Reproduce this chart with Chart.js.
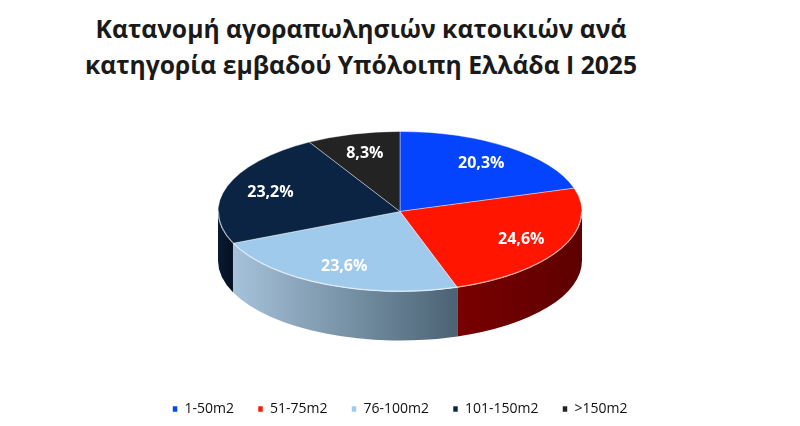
<!DOCTYPE html>
<html lang="el">
<head>
<meta charset="UTF-8">
<title>Κατανομή αγοραπωλησιών κατοικιών</title>
<script src="https://cdn.jsdelivr.net/npm/chart.js"></script>
<style>
  body { margin: 0; background: #fff; }
  #wrap { position: relative; width: 800px; height: 426px; }
  #title {
    position: absolute; top: 11px; left: 0; width: 722px;
    text-align: center; font: bold 24.7px "Open Sans", "Noto Sans", sans-serif;
    line-height: 36px; color: #1a1a1a;
  }
  canvas { position: absolute; left: 0; top: 0; }
</style>
</head>
<body>
<div id="wrap">
  <div id="title">Κατανομή αγοραπωλησιών κατοικιών ανά<br>κατηγορία εμβαδού Υπόλοιπη Ελλάδα Ι 2025</div>
  <canvas id="pie" width="800" height="426"></canvas>
</div>
<script>
// Δεδομένα
const categories = ['1-50m2', '51-75m2', '76-100m2', '101-150m2', '>150m2'];
const shares = [20.3, 24.6, 23.6, 23.2, 8.3];
const topColors = ['#0544ff', '#ff1500', '#9fcaec', '#0b2444', '#232323'];
const sideColors = [['#0020a0', '#001870'], ['#780000', '#5e0000'], ['#a6c2da', '#4a6273'], ['#0a1a33', '#050f20'], ['#1a1a1a', '#111']];

const TILT = 0.44;   // λόγος έλλειψης
const DEPTH = 49;    // πάχος πίτας

// plugin για ψευδο-3D
const pie3d = {
  id: 'pie3d',
  beforeDatasetsDraw(chart) {
    const ctx = chart.ctx;
    const arcs = chart.getDatasetMeta(0).data;
    const cx = arcs[0].x, cy = arcs[0].y, R = arcs[0].outerRadius;
    // πλευρές (μόνο το μπροστινό μισό)
    arcs.forEach((arc, i) => {
      const a0 = Math.max(arc.startAngle, 0);
      const a1 = Math.min(arc.endAngle, Math.PI);
      if (a1 <= a0) return;
      const xl = cx + R * Math.cos(a1), xr = cx + R * Math.cos(a0);
      const g = ctx.createLinearGradient(xl, 0, xr + 1, 0);
      g.addColorStop(0, sideColors[i][0]);
      g.addColorStop(1, sideColors[i][1]);
      ctx.beginPath();
      ctx.ellipse(cx, cy, R, R * TILT, 0, a0, a1);
      ctx.ellipse(cx, cy + DEPTH, R, R * TILT, 0, a1, a0, true);
      ctx.closePath();
      ctx.fillStyle = g;
      ctx.fill();
    });
    ctx.save();
    ctx.translate(cx, cy);
    ctx.scale(1, TILT);
    ctx.translate(-cx, -cy);
  },
  afterDatasetsDraw(chart) {
    const ctx = chart.ctx;
    ctx.restore();
    const arcs = chart.getDatasetMeta(0).data;
    const cx = arcs[0].x, cy = arcs[0].y, R = arcs[0].outerRadius;
    // λεπτή ανταύγεια στο μπροστινό χείλος
    ctx.save();
    ctx.beginPath();
    ctx.ellipse(cx, cy, R - 0.5, R * TILT - 0.5, 0, 0, Math.PI);
    ctx.strokeStyle = 'rgba(255,255,255,0.55)';
    ctx.lineWidth = 1;
    ctx.stroke();
    ctx.restore();

    ctx.save();
    ctx.fillStyle = '#fff';
    ctx.font = 'bold 16px "Open Sans", "Noto Sans", sans-serif';
    ctx.textAlign = 'center';
    ctx.textBaseline = 'middle';
    arcs.forEach((arc, i) => {
      const mid = (arc.startAngle + arc.endAngle) / 2;
      const r = arc.outerRadius * 0.75;
      const x = arc.x + Math.cos(mid) * r;
      const y = arc.y + Math.sin(mid) * r * TILT;
      ctx.fillText(shares[i].toFixed(1).replace('.', ',') + '%', x, y);
    });
    ctx.restore();
  }
};

new Chart(document.getElementById('pie'), {
  type: 'pie',
  data: {
    labels: categories,
    datasets: [{
      data: shares,
      backgroundColor: topColors,
      borderColor: 'rgba(255,255,255,0.55)',
      borderWidth: 1,
      radius: 182
    }]
  },
  options: {
    responsive: false,
    animation: false,
    layout: { padding: { top: 45, bottom: 0 } },
    plugins: {
      legend: {
        position: 'bottom',
        labels: {
          boxWidth: 5,
          boxHeight: 6,
          padding: 24,
          color: '#111',
          font: { size: 14, family: '"Open Sans", "Noto Sans", sans-serif' }
        }
      },
      tooltip: { enabled: false }
    }
  },
  plugins: [pie3d]
});
</script>
</body>
</html>
